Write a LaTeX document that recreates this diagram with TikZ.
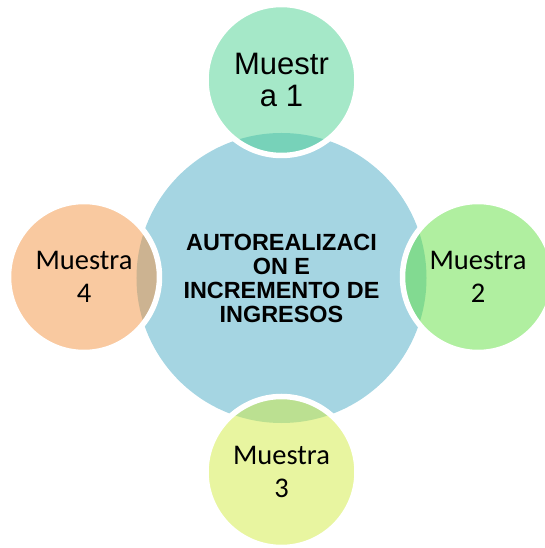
\documentclass[tikz,border=0pt]{standalone}
\usepackage{fontspec}
\newfontfamily\arialfont{Liberation Sans}
\newfontfamily\calibrifont{Carlito}
\definecolor{centroazul}{RGB}{165,213,226}
\definecolor{verdeagua}{RGB}{75,209,145}
\definecolor{verdeclaro}{RGB}{97,223,65}
\definecolor{limon}{RGB}{209,235,65}
\definecolor{naranja}{RGB}{243,147,65}

\begin{document}
\begin{tikzpicture}[x=1pt, y=1pt,
        muestra/.style={circle, draw=white, line width=5.5pt, fill opacity=0.5, text opacity=1,
            minimum size=151pt, inner sep=0pt, align=center,
            font=\calibrifont\fontsize{28.5}{32.5}\selectfont}]
        \useasboundingbox (-281.5,-270) rectangle (263.5,278);

        \node[circle, fill=centroazul, minimum size=290pt, inner sep=0pt, align=center,
            font=\arialfont\bfseries\fontsize{23.4}{24}\selectfont] (centro) at (0,0)
            {AUTOREALIZACI\\ON E\\INCREMENTO DE\\INGRESOS};

        \node[muestra, fill=verdeagua, font=\arialfont\fontsize{31}{31.7}\selectfont] (m1) at (0,198) {Muestr\\a 1};
        \node[muestra, fill=verdeclaro] (m2) at (196.5,1) {Muestra\\2};
        \node[muestra, fill=limon] (m3) at (0,-194) {Muestra\\3};
        \node[muestra, fill=naranja] (m4) at (-197.5,1) {Muestra\\4};
\end{tikzpicture}
\end{document}
